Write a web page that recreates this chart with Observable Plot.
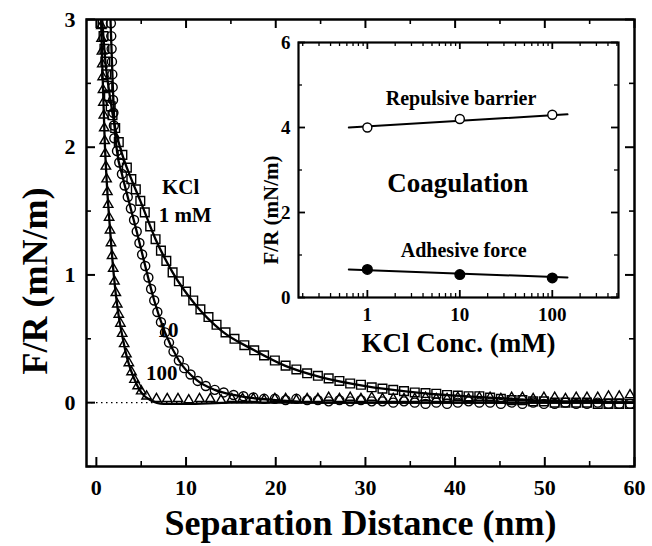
<!DOCTYPE html>
<html><head><meta charset="utf-8">
<script src="https://cdn.jsdelivr.net/npm/d3@7"></script>
<script src="https://cdn.jsdelivr.net/npm/@observablehq/plot@0.6"></script>
<style>
body{margin:0;background:#fff;}
#wrap{position:relative;width:652px;height:546px;}
#inset{position:absolute;left:248px;top:36px;}
</style></head>
<body><div id="wrap"><div id="main"></div><div id="inset"></div></div>
<script>
// ---------- main chart data ----------
const tri100X = [0.55,0.58,0.62,0.66,0.70,0.74,0.78,0.83,0.88,0.93,0.99,1.06,1.14,1.23,1.32,1.42,1.52,1.63,1.75,1.88,2.02,2.17,2.33,2.5,2.68,2.88,3.1,3.35,3.62,3.92,4.25,4.6,5.0,
  5.6,6.7,7.9,9.1,10.3,11.5,12.7,13.9,15.1,16.3,17.5,18.7,19.9,21.1,22.3,23.5,24.7,25.9,27.1,28.3,29.5,30.7,31.9,33.1,34.3,35.5,36.7,37.9,39.1,40.3,41.5,42.7,43.9,45.1,46.3,47.5,48.7,49.9,51.1,52.3,53.5,54.7,55.9,57.1,58.3,59.5];
const tri100Y = [2.95,2.85,2.75,2.65,2.55,2.45,2.35,2.25,2.15,2.05,1.95,1.85,1.75,1.65,1.55,1.45,1.35,1.25,1.15,1.05,0.95,0.86,0.77,0.69,0.62,0.54,0.46,0.38,0.31,0.24,0.18,0.13,0.09,
  0.05,0.03,0.03,0.03,0.02,0.03,0.03,0.02,0.03,0.03,0.03,0.02,0.03,0.03,0.02,0.03,0.03,0.04,0.03,0.04,0.03,0.04,0.03,0.03,0.03,0.03,0.04,0.03,0.03,0.04,0.03,0.04,0.04,0.03,0.04,0.04,0.03,0.04,0.04,0.03,0.04,0.04,0.04,0.05,0.05,0.06];

const circ10X = [1.62,1.66,1.70,1.74,1.78,1.82,1.86,1.90,1.95,2.0,
  2.3,2.55,2.85,3.15,3.5,3.85,4.2,4.5,4.8,5.1,5.45,5.8,6.1,6.45,6.8,7.2,7.65,8.1,8.6,9.2,9.8,10.5,11.3,12.2,13.2,14.2,15.3,16.4,17.5,
  18.7,19.9,21.1,22.3,23.5,24.7,25.9,27.1,28.3,29.5,30.7,31.9,33.1,34.3,35.5,36.7,37.9,39.1,40.3,41.5,42.7,43.9,45.1,46.3,47.5,48.7,49.9,51.1,52.3,53.5,54.7,55.9,57.1,58.3,59.5];
const circ10Y = [2.97,2.87,2.77,2.67,2.57,2.47,2.37,2.27,2.17,2.07,
  1.97,1.88,1.79,1.70,1.61,1.52,1.43,1.34,1.25,1.16,1.07,0.98,0.89,0.80,0.71,0.63,0.55,0.47,0.40,0.33,0.27,0.22,0.17,0.13,0.10,0.08,0.06,0.05,0.04,
  0.03,0.03,0.02,0.03,0.02,0.02,0.01,0.02,0.01,0.02,0.01,0.01,0.0,0.01,0.0,-0.01,0.0,-0.01,0.0,0.01,0.0,0.0,-0.01,0.0,-0.01,0.0,-0.01,-0.01,0.0,-0.01,-0.01,0.0,-0.01,-0.01,-0.01];

const sq1X = [0.7,0.8,0.9,1.0,1.1,1.25,1.4,1.6,1.8,
  2.1,2.5,2.9,3.4,3.9,4.4,4.9,5.4,6.0,6.6,7.2,7.8,8.5,9.2,10.0,10.8,11.6,12.5,13.4,14.4,15.4,16.5,17.6,18.7,19.9,21.1,22.3,23.5,24.7,25.9,27.1,28.3,29.5,30.7,31.9,33.1,34.3,35.5,36.7,37.9,39.1,40.3,41.5,42.7,43.9,45.1,46.3,47.5,48.7,49.9,51.1,52.3,53.5,54.7,55.9,57.1,58.3,59.5];
const sq1Y = [2.97,2.87,2.77,2.67,2.57,2.48,2.40,2.32,2.25,
  2.15,2.04,1.94,1.84,1.75,1.67,1.58,1.49,1.38,1.28,1.19,1.11,1.02,0.95,0.87,0.80,0.73,0.67,0.61,0.55,0.50,0.45,0.41,0.37,0.33,0.29,0.26,0.23,0.21,0.19,0.17,0.15,0.14,0.12,0.11,0.10,0.09,0.08,0.075,0.07,0.06,0.055,0.05,0.05,0.04,0.03,0.02,0.02,0.01,0.01,0.0,0.0,0.0,0.0,-0.01,-0.01,-0.01,-0.01];

const fit100X = [0.5,0.7,0.93,1.2,1.5,1.9,2.4,2.9,3.5,4.2,5.0,6.0,7.5,10,15,60];
const fit100Y = [3.05,2.55,2.05,1.68,1.38,1.03,0.72,0.52,0.33,0.19,0.08,0.02,-0.01,-0.01,0,0];
const fit10X = [1.55,1.7,1.85,2.0,2.3,2.85,3.5,4.5,5.45,6.45,7.65,9.2,11.3,13.2,15.3,17.5,20,25,60];
const fit10Y = [3.05,2.75,2.45,2.2,1.97,1.79,1.61,1.34,1.07,0.8,0.55,0.33,0.17,0.1,0.06,0.035,0.02,0.0,0.0];
const fit1X = [0.6,1.0,1.5,2.1,2.9,3.9,4.9,6.6,8.5,11,14,17.6,21,25,30,35,40,45,50,55,60];
const fit1Y = [3.05,2.68,2.4,2.15,1.94,1.75,1.58,1.28,1.02,0.77,0.56,0.41,0.29,0.2,0.13,0.085,0.055,0.035,0.015,0.005,0];

const xTickValues = [0,10,20,30,40,50,60];
const xTickLabels = ["0","10","20","30","40","50","60"];
const xMinorTicks = [5,15,25,35,45,55];
const yTickValues = [0,1,2,3];
const yTickLabels = ["0","1","2","3"];
const yMinorTicks = [-0.5,0.5,1.5,2.5];
const xTitle = "Separation Distance (nm)";
const yTitle = "F/R (mN/m)";
const seriesLabels = ["KCl","1 mM","10","100"];

// ---------- inset data ----------
const insetConc = [1,10,100];
const repulsive = [4.0,4.2,4.3];
const adhesive = [0.66,0.54,0.46];
const repLineX = [0.63,146];
const repLineY = [4.0,4.31];
const adhLineX = [0.63,146];
const adhLineY = [0.66,0.47];
const insetXTicks = [1,10,100];
const insetXTickLabels = ["1","10","100"];
const insetXMinor = [0.2,0.3,0.4,0.5,0.6,0.7,0.8,0.9,2,3,4,5,6,7,8,9,20,30,40,50,60,70,80,90,200,300,400,500];
const insetYTicks = [0,2,4,6];
const insetYTickLabels = ["0","2","4","6"];
const insetYMinor = [1,3,5];
const insetXTitle = "KCl Conc. (mM)";
const insetYTitle = "F/R (mN/m)";
const insetLabels = ["Repulsive barrier","Coagulation","Adhesive force"];

// ---------- build ----------
const FONT = "'Liberation Serif','Times New Roman',serif";
const pts = (X,Y) => X.map((x,i)=>({x, y:Y[i]}));
const W=652, H=546, mt=19, mr=18, mb=80, ml=86;
const ph = H-mt-mb, pw = W-ml-mr;

const main = Plot.plot({
  width:W, height:H, marginTop:mt, marginRight:mr, marginBottom:mb, marginLeft:ml,
  style:{fontFamily:FONT, fontWeight:"bold", background:"white", color:"black"},
  x:{domain:[-1.1,60]},
  y:{domain:[-0.5,3]},
  marks:[
    Plot.ruleY([0],{strokeDasharray:"1.5,3.5", strokeWidth:1.3}),
    Plot.ruleX(xTickValues,{insetTop:ph-9, strokeWidth:2}),
    Plot.ruleX(xTickValues,{insetBottom:ph-9, strokeWidth:2}),
    Plot.ruleX(xMinorTicks,{insetTop:ph-5, strokeWidth:1.6}),
    Plot.ruleX(xMinorTicks,{insetBottom:ph-5, strokeWidth:1.6}),
    Plot.ruleY(yTickValues,{insetRight:pw-9, strokeWidth:2}),
    Plot.ruleY(yTickValues,{insetLeft:pw-9, strokeWidth:2}),
    Plot.ruleY(yMinorTicks,{insetRight:pw-5, strokeWidth:1.6}),
    Plot.ruleY(yMinorTicks,{insetLeft:pw-5, strokeWidth:1.6}),
    Plot.axisX({ticks:xTickValues, tickFormat:d=>xTickLabels[xTickValues.indexOf(d)], tickSize:0, tickPadding:13, fontSize:22, label:null}),
    Plot.axisY({ticks:yTickValues, tickFormat:d=>yTickLabels[yTickValues.indexOf(d)], tickSize:0, tickPadding:11, fontSize:22, label:null}),
    Plot.dot(pts(tri100X,tri100Y),{x:"x",y:"y",symbol:"triangle",r:3.5,stroke:"black",strokeWidth:1.4,fill:"none",clip:true}),
    Plot.dot(pts(circ10X,circ10Y),{x:"x",y:"y",symbol:"circle",r:4.5,stroke:"black",strokeWidth:1.4,fill:"none",clip:true}),
    Plot.dot(pts(sq1X,sq1Y),{x:"x",y:"y",symbol:"square",r:4.9,stroke:"black",strokeWidth:1.4,fill:"none",clip:true}),
    Plot.line(pts(fit100X,fit100Y),{x:"x",y:"y",curve:"monotone-x",strokeWidth:2.3,clip:true}),
    Plot.line(pts(fit10X,fit10Y),{x:"x",y:"y",curve:"monotone-x",strokeWidth:2.3,clip:true}),
    Plot.line(pts(fit1X,fit1Y),{x:"x",y:"y",curve:"monotone-x",strokeWidth:2.3,clip:true}),
    Plot.text([seriesLabels[0]],{x:9.4,y:1.69,fontSize:21}),
    Plot.text([seriesLabels[1]],{x:9.9,y:1.47,fontSize:21}),
    Plot.text([seriesLabels[2]],{x:8.0,y:0.57,fontSize:21}),
    Plot.text([seriesLabels[3]],{x:7.3,y:0.23,fontSize:21}),
    Plot.text([xTitle],{frameAnchor:"bottom", lineAnchor:"middle", dy:57, fontSize:36}),
    Plot.text([yTitle],{frameAnchor:"left", textAnchor:"middle", lineAnchor:"middle", dx:-51, dy:38, rotate:-90, fontSize:36}),
    Plot.frame({strokeWidth:2.5})
  ]
});
document.getElementById("main").appendChild(main);

const iml=50, imt=6, imr=6, imb=62, iw=376, ih=323;
const iph = ih-imt-imb, ipw = iw-iml-imr;
const inset = Plot.plot({
  width:iw, height:ih, marginTop:imt, marginRight:imr, marginBottom:imb, marginLeft:iml,
  style:{fontFamily:FONT, fontWeight:"bold", background:"transparent", color:"black", overflow:"visible"},
  x:{type:"log", domain:[0.18,520]},
  y:{domain:[0,6]},
  marks:[
    Plot.frame({fill:"white"}),
    Plot.ruleX(insetXTicks,{insetTop:iph-7, strokeWidth:1.8}),
    Plot.ruleX(insetXTicks,{insetBottom:iph-7, strokeWidth:1.8}),
    Plot.ruleX(insetXMinor,{insetTop:iph-4, strokeWidth:1.3}),
    Plot.ruleX(insetXMinor,{insetBottom:iph-4, strokeWidth:1.3}),
    Plot.ruleY(insetYTicks,{insetRight:ipw-7, strokeWidth:1.8}),
    Plot.ruleY(insetYTicks,{insetLeft:ipw-7, strokeWidth:1.8}),
    Plot.ruleY(insetYMinor,{insetRight:ipw-4, strokeWidth:1.3}),
    Plot.ruleY(insetYMinor,{insetLeft:ipw-4, strokeWidth:1.3}),
    Plot.axisX({ticks:insetXTicks, tickFormat:d=>insetXTickLabels[insetXTicks.indexOf(d)], tickSize:0, tickPadding:10, fontSize:19, label:null}),
    Plot.axisY({ticks:insetYTicks, tickFormat:d=>insetYTickLabels[insetYTicks.indexOf(d)], tickSize:0, tickPadding:8, fontSize:19, label:null}),
    Plot.line(pts(repLineX,repLineY),{x:"x",y:"y",strokeWidth:2}),
    Plot.line(pts(adhLineX,adhLineY),{x:"x",y:"y",strokeWidth:2}),
    Plot.dot(pts(insetConc,repulsive),{x:"x",y:"y",r:4.5,stroke:"black",strokeWidth:1.4,fill:"white"}),
    Plot.dot(pts(insetConc,adhesive),{x:"x",y:"y",r:4.8,fill:"black",stroke:"black"}),
    Plot.text([insetLabels[0]],{x:10.3,y:4.68,fontSize:20}),
    Plot.text([insetLabels[1]],{x:9.5,y:2.68,fontSize:27}),
    Plot.text([insetLabels[2]],{x:11,y:1.1,fontSize:20}),
    Plot.text([insetXTitle],{frameAnchor:"bottom", lineAnchor:"middle", dy:46, fontSize:27}),
    Plot.text([insetYTitle],{frameAnchor:"left", textAnchor:"middle", lineAnchor:"middle", dx:-27, dy:40, rotate:-90, fontSize:21}),
    Plot.frame({strokeWidth:2.2})
  ]
});
document.getElementById("inset").appendChild(inset);
</script></body></html>
